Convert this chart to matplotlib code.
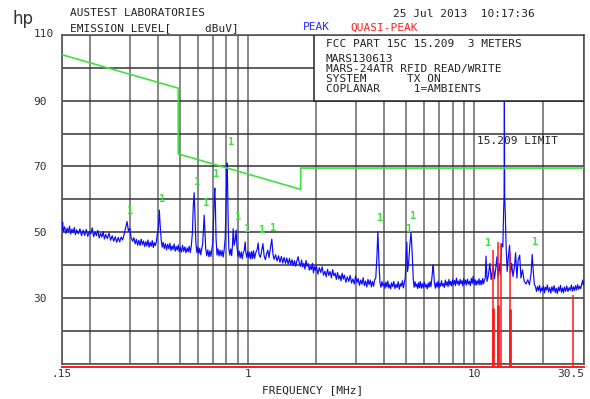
import matplotlib
matplotlib.use("Agg")
import matplotlib.pyplot as plt
from matplotlib.patches import Rectangle
from matplotlib.ticker import NullLocator

# peak detector trace (MHz, dBuV)
peak_trace = [
    (0.150, 51.0), (0.151, 53.0), (0.152, 50.2), (0.154, 51.6), (0.156, 49.6), (0.158, 51.2),
    (0.160, 50.0), (0.162, 51.8), (0.164, 49.4), (0.166, 50.9), (0.168, 49.8), (0.170, 51.4),
    (0.172, 49.2), (0.174, 50.7), (0.177, 49.5), (0.180, 51.0), (0.183, 48.9), (0.186, 50.6),
    (0.189, 49.0), (0.192, 50.8), (0.195, 48.7), (0.198, 50.2), (0.201, 49.4), (0.204, 51.3),
    (0.207, 48.6), (0.210, 50.0), (0.213, 48.9), (0.216, 50.5), (0.219, 48.2), (0.222, 49.6),
    (0.225, 48.5), (0.228, 50.1), (0.231, 47.9), (0.234, 49.3), (0.238, 48.0), (0.242, 49.7),
    (0.246, 47.5), (0.250, 48.9), (0.254, 47.2), (0.258, 48.6), (0.262, 46.9), (0.266, 48.4),
    (0.270, 47.0), (0.274, 48.5), (0.278, 47.6), (0.282, 49.2), (0.287, 51.5), (0.291, 53.2),
    (0.295, 50.3), (0.299, 51.2), (0.303, 48.4), (0.308, 47.2),
    (0.312, 48.3), (0.316, 46.4), (0.320, 47.8), (0.324, 46.0), (0.328, 47.5), (0.332, 45.9),
    (0.336, 47.9), (0.340, 46.2), (0.344, 47.3), (0.348, 45.6), (0.352, 47.1), (0.356, 45.8),
    (0.360, 47.6), (0.364, 45.4), (0.368, 46.9), (0.372, 45.7), (0.376, 47.4), (0.380, 45.3),
    (0.384, 46.8), (0.388, 45.9), (0.392, 47.0), (0.396, 49.5), (0.400, 51.0), (0.404, 56.7),
    (0.408, 51.5), (0.412, 47.5), (0.416, 45.4), (0.420, 46.9), (0.425, 45.0), (0.430, 46.5),
    (0.435, 44.6), (0.440, 46.3), (0.445, 44.9), (0.450, 46.6), (0.455, 44.4), (0.460, 45.8),
    (0.465, 44.7), (0.470, 46.4), (0.475, 44.2), (0.480, 45.6), (0.485, 44.5), (0.490, 46.1),
    (0.495, 44.0), (0.500, 45.4), (0.506, 43.9), (0.512, 46.0), (0.518, 44.1), (0.524, 45.5),
    (0.530, 43.7), (0.536, 45.2), (0.542, 44.0), (0.548, 45.7), (0.554, 43.8),
    (0.560, 46.0), (0.566, 50.0), (0.571, 58.0), (0.576, 62.0), (0.581, 55.0), (0.586, 47.0),
    (0.592, 43.8), (0.598, 45.4), (0.604, 43.5), (0.610, 45.1), (0.616, 43.1), (0.622, 44.9),
    (0.628, 46.5), (0.633, 50.5), (0.638, 55.2), (0.643, 50.0), (0.648, 45.0), (0.655, 42.8),
    (0.662, 44.6), (0.669, 42.5), (0.676, 44.3), (0.683, 42.6), (0.690, 44.8), (0.697, 47.0),
    (0.703, 55.0), (0.708, 61.5), (0.711, 63.4), (0.715, 58.0), (0.720, 48.0), (0.727, 43.0),
    (0.734, 44.9), (0.742, 42.7), (0.750, 44.5), (0.758, 42.8), (0.766, 44.4), (0.774, 42.4),
    (0.782, 44.7), (0.790, 48.0), (0.797, 58.0), (0.802, 66.0), (0.806, 71.0), (0.810, 64.0),
    (0.815, 52.0), (0.820, 45.0), (0.828, 43.0), (0.836, 44.9), (0.844, 42.8), (0.851, 46.0),
    (0.857, 51.0), (0.866, 46.0), (0.875, 47.5), (0.883, 50.6), (0.891, 45.5), (0.900, 42.6),
    (0.910, 44.3), (0.920, 42.1), (0.930, 44.0), (0.940, 41.9), (0.950, 43.8), (0.960, 44.5),
    (0.968, 47.0), (0.976, 43.6), (0.985, 42.3), (0.995, 44.2),
    (1.005, 42.1), (1.015, 43.9), (1.025, 41.8), (1.035, 44.1), (1.045, 42.0), (1.055, 44.3),
    (1.065, 42.0), (1.080, 43.8), (1.095, 44.8), (1.105, 46.7), (1.115, 43.2), (1.130, 42.3),
    (1.145, 44.2), (1.160, 46.5), (1.175, 42.7), (1.190, 41.6), (1.205, 43.5), (1.220, 44.5),
    (1.235, 42.2), (1.250, 44.8), (1.270, 47.9), (1.285, 43.2), (1.300, 41.7), (1.32, 43.1),
    (1.34, 41.2), (1.36, 42.8), (1.38, 40.8), (1.40, 42.6), (1.42, 40.6), (1.44, 42.3),
    (1.46, 40.5), (1.48, 42.1), (1.50, 40.2), (1.52, 42.0), (1.54, 40.1), (1.56, 41.6),
    (1.58, 39.8), (1.60, 41.3), (1.62, 39.6), (1.64, 41.2), (1.66, 42.5), (1.68, 40.6),
    (1.70, 39.6), (1.72, 41.5), (1.74, 39.4), (1.76, 40.5), (1.78, 38.7), (1.80, 41.4),
    (1.82, 39.6), (1.84, 40.4), (1.86, 38.4), (1.88, 39.6), (1.90, 38.6), (1.92, 40.5),
    (1.94, 37.6), (1.96, 39.5), (1.98, 38.3), (2.00, 39.5), (2.03, 37.2), (2.06, 39.2),
    (2.09, 37.7), (2.12, 39.4), (2.15, 36.9), (2.18, 38.1), (2.21, 36.4), (2.24, 38.7),
    (2.27, 36.8), (2.30, 38.0), (2.33, 36.1), (2.36, 38.6), (2.39, 36.7), (2.42, 37.5),
    (2.45, 35.6), (2.48, 37.7), (2.51, 35.7), (2.54, 36.8), (2.57, 35.2), (2.60, 37.5),
    (2.63, 35.7), (2.66, 36.9), (2.70, 34.7), (2.74, 36.4), (2.78, 35.0), (2.82, 36.8),
    (2.86, 34.5), (2.90, 35.7), (2.94, 34.2), (2.98, 36.6), (3.02, 34.6), (3.06, 35.9),
    (3.10, 33.8), (3.14, 35.4), (3.18, 34.1), (3.22, 36.1), (3.26, 33.7), (3.30, 35.1),
    (3.34, 33.3), (3.38, 35.6), (3.42, 34.0), (3.46, 35.4), (3.50, 33.3), (3.54, 35.0),
    (3.58, 33.5), (3.62, 35.5), (3.66, 36.0), (3.70, 42.0), (3.74, 50.1), (3.78, 41.0),
    (3.82, 34.5),
    (3.86, 33.2), (3.90, 35.0), (3.94, 33.6), (3.98, 34.4), (4.02, 32.9), (4.06, 34.8),
    (4.10, 33.3), (4.14, 35.1), (4.18, 33.0), (4.22, 34.0), (4.26, 32.7), (4.30, 34.6),
    (4.35, 33.4), (4.40, 35.0), (4.45, 32.8), (4.50, 34.1), (4.55, 33.1), (4.60, 34.9),
    (4.65, 32.6), (4.70, 34.3), (4.75, 33.5), (4.80, 35.2), (4.85, 33.0), (4.90, 34.7),
    (4.94, 36.0), (4.98, 42.0), (5.02, 47.0), (5.06, 38.0), (5.12, 41.0), (5.18, 46.0),
    (5.24, 50.1), (5.30, 44.0), (5.36, 36.0), (5.41, 33.2), (5.46, 34.9), (5.51, 33.4),
    (5.56, 34.2), (5.61, 32.8), (5.66, 34.6), (5.71, 33.1), (5.76, 35.0), (5.82, 32.9),
    (5.88, 34.3), (5.94, 33.0), (6.00, 34.8), (6.06, 33.3), (6.12, 34.0), (6.18, 32.7),
    (6.24, 34.5), (6.30, 33.2), (6.36, 34.9), (6.42, 33.4), (6.48, 36.0), (6.53, 38.5),
    (6.57, 40.0), (6.61, 37.0), (6.66, 34.2), (6.72, 32.9), (6.78, 34.6), (6.84, 33.3),
    (6.90, 35.1), (6.96, 33.0), (7.02, 34.4), (7.08, 33.5), (7.15, 35.2), (7.22, 33.6),
    (7.29, 34.3), (7.36, 33.1), (7.43, 35.4), (7.50, 33.8), (7.57, 34.9), (7.64, 33.4),
    (7.71, 35.6), (7.78, 33.9), (7.85, 35.0), (7.92, 33.6), (8.00, 35.5), (8.08, 34.0),
    (8.16, 35.3), (8.24, 33.7), (8.32, 36.0), (8.40, 34.2), (8.48, 35.1), (8.56, 33.8),
    (8.64, 35.6), (8.72, 34.3), (8.80, 35.2), (8.88, 33.6), (8.96, 35.8), (9.05, 34.1),
    (9.14, 35.4), (9.23, 33.9), (9.32, 35.7), (9.41, 34.2), (9.50, 35.0), (9.59, 33.7),
    (9.68, 35.9), (9.77, 34.4), (9.87, 36.6), (9.97, 34.0), (10.07, 35.5), (10.17, 33.8),
    (10.27, 35.2), (10.37, 34.1), (10.47, 35.8), (10.57, 33.9), (10.67, 35.3), (10.77, 34.0),
    (10.87, 35.9), (10.97, 34.3), (11.07, 35.4), (11.16, 36.0),
    (11.25, 42.7), (11.36, 35.0), (11.5, 36.5), (11.7, 40.5), (11.85, 35.5), (12.0, 38.0),
    (12.1, 40.0), (12.25, 35.8), (12.4, 38.5), (12.57, 42.5), (12.7, 36.5), (12.85, 40.5),
    (13.0, 37.0), (13.2, 46.4), (13.35, 45.5), (13.45, 56.0), (13.52, 61.3), (13.56, 89.7),
    (13.60, 61.0), (13.68, 56.0), (13.8, 45.6), (13.95, 38.0), (14.1, 42.0), (14.3, 46.0),
    (14.45, 37.5), (14.6, 40.5), (14.8, 36.5), (15.0, 39.0), (15.2, 43.7), (15.4, 36.0),
    (15.6, 41.5), (15.85, 43.0), (16.05, 36.0), (16.3, 38.5), (16.6, 35.0), (16.9, 34.2),
    (17.2, 35.5), (17.5, 34.0), (17.8, 37.5), (18.0, 43.2), (18.2, 38.0), (18.4, 34.0),
    (18.6, 33.5), (18.8, 31.9), (19.0, 33.4), (19.2, 32.2), (19.4, 33.8), (19.6, 31.7),
    (19.8, 33.0), (20.0, 32.1), (20.2, 33.6), (20.4, 31.5), (20.6, 33.2), (20.8, 32.4),
    (21.0, 33.9), (21.25, 31.8), (21.5, 33.1), (21.75, 31.4), (22.0, 33.4), (22.25, 32.0),
    (22.5, 33.7), (22.75, 31.6), (23.0, 32.9), (23.25, 31.3), (23.5, 33.2), (23.75, 32.1),
    (24.0, 33.8), (24.25, 31.7), (24.5, 33.0), (24.75, 31.5), (25.0, 33.3), (25.3, 32.0),
    (25.6, 33.6), (25.9, 31.9), (26.2, 33.1), (26.5, 32.3), (26.8, 33.9), (27.1, 32.0),
    (27.4, 33.4), (27.7, 32.2), (28.0, 33.7), (28.3, 32.4), (28.6, 34.0), (28.9, 32.6),
    (29.2, 33.5), (29.5, 32.8), (29.8, 34.2), (30.1, 35.4), (30.3, 33.9), (30.5, 34.8),
]

# FCC 15.209 limit at 3 m
limit_freq = [0.15, 0.49, 0.49, 1.705, 1.705, 30.5]
limit_dbuv = [104.0, 93.8, 73.8, 63.0, 69.5, 69.5]

# quasi-peak measurements
qp_floor = 9.0
qp_freq = [12.1, 12.75, 13.1, 14.3, 27.4]
qp_dbuv = [44.5, 47.0, 46.8, 44.0, 30.9]
qp2_freq = [12.1, 12.75, 14.3]
qp2_dbuv = [27.0, 27.8, 26.5]

# "1" ambient markers
amb_freq = [0.30, 0.415, 0.594, 0.651, 0.72, 0.84, 0.90, 0.99, 1.15, 1.29, 3.82, 5.37, 5.15, 11.5, 18.6]
amb_dbuv = [56.4, 60.1, 65.3, 58.9, 67.7, 77.4, 54.6, 50.9, 50.6, 51.2, 54.3, 54.9, 50.9, 46.7, 47.0]

x_grid = [0.15, 0.2, 0.3, 0.4, 0.5, 0.6, 0.7, 0.8, 0.9, 1, 2, 3, 4, 5, 6, 7, 8, 9, 10, 20, 30.5]
x_labels = {0.15: '.15', 1: '1', 10: '10', 30.5: '30.5'}
y_grid = [10, 20, 30, 40, 50, 60, 70, 80, 90, 100, 110]
y_labels = {30: '30', 50: '50', 70: '70', 90: '90'}

MONO = 'DejaVu Sans Mono'
W, H = 590, 399


def fx(x):
    return x / W


def fy(y):
    return 1 - y / H


fig = plt.figure(figsize=(5.9, 3.99), dpi=100)
ax = fig.add_axes([fx(62), fy(363.5), 522 / W, 328.5 / H])

ax.set_xscale('log')
ax.set_xlim(0.15, 30.5)
ax.set_ylim(10, 110)
ax.set_xticks(x_grid)
ax.set_xticklabels([x_labels.get(v, '') for v in x_grid])
ax.xaxis.set_minor_locator(NullLocator())
ax.set_yticks(y_grid)
ax.set_yticklabels([y_labels.get(v, '') for v in y_grid])
ax.tick_params(length=0, labelsize=8, labelcolor='#333333', pad=4)
ax.tick_params(axis='y', pad=11)
for lab in ax.get_xticklabels() + ax.get_yticklabels():
    lab.set_fontfamily(MONO)
ax.get_xticklabels()[-1].set_horizontalalignment('right')
ax.grid(True, axis='x', color='#666666', lw=1.1)
ax.grid(True, axis='y', color='#333333', lw=1.1)
ax.set_axisbelow(True)
for s in ax.spines.values():
    s.set_color('#555555')
    s.set_linewidth(1.2)

ax.annotate('110', (0.15, 110), xytext=(-6, 1), textcoords='offset points',
            ha='right', va='center', fontsize=8, family=MONO, color='#333333',
            annotation_clip=False)

pf, pd_ = zip(*peak_trace)
ax.plot(pf, pd_, color='#0a0aff', lw=0.85, zorder=3)
ax.plot(limit_freq, limit_dbuv, color='#3ee03e', lw=1.2, zorder=3)
ax.plot([0.15, 30.5], [qp_floor, qp_floor], color='#ff1a1a', lw=1.4, zorder=3, clip_on=False)
ax.vlines(qp_freq, qp_floor, qp_dbuv, color='#ff1a1a', lw=1.1, zorder=3, clip_on=False)
ax.vlines(qp2_freq, qp_floor, qp2_dbuv, color='#ff1a1a', lw=2.0, zorder=3, clip_on=False)

for f, d in zip(amb_freq, amb_dbuv):
    ax.text(f, d, '1', color='#3ee03e', fontsize=7.5, family=MONO, fontweight='bold',
            ha='center', va='center', zorder=4)

ax.text(10.3, 77.6, '15.209 LIMIT', fontsize=8, family=MONO, color='#222222',
        ha='left', va='center', zorder=4)

# info box top right
ax.add_patch(Rectangle((0.483, 0.8), 0.517, 0.2, transform=ax.transAxes,
                       facecolor='white', edgecolor='#222222', lw=1.1, zorder=5))
box_lines = [
    (44, 'FCC PART 15C 15.209  3 METERS'),
    (58.5, 'MARS130613'),
    (69, 'MARS-24ATR RFID READ/WRITE'),
    (79, 'SYSTEM      TX ON'),
    (89, 'COPLANAR     1=AMBIENTS'),
]
for y, t in box_lines:
    fig.text(fx(326), fy(y), t, fontsize=8, family=MONO, color='#222222',
             va='center', ha='left', zorder=6)

# header
fig.text(fx(23), fy(19), 'hp', fontsize=12, color='#333333', ha='center', va='center')
fig.text(fx(70), fy(13.5), 'AUSTEST LABORATORIES', fontsize=8, family=MONO,
         color='#222222', va='center')
fig.text(fx(70), fy(28.5), 'EMISSION LEVEL[     dBuV]', fontsize=8, family=MONO,
         color='#222222', va='center')
fig.text(fx(393), fy(14), '25 Jul 2013  10:17:36', fontsize=8, family=MONO,
         color='#222222', va='center')
fig.text(fx(303), fy(27.5), 'PEAK', fontsize=8, family=MONO, color='#2a2aff', va='center')
fig.text(fx(350), fy(27.5), 'QUASI-PEAK', fontsize=8, family=MONO, color='#ff2020', va='center')
fig.text(fx(313), fy(390), 'FREQUENCY [MHz]', fontsize=8, family=MONO,
         color='#222222', ha='center', va='center')

fig.savefig('out.png', dpi=100)
